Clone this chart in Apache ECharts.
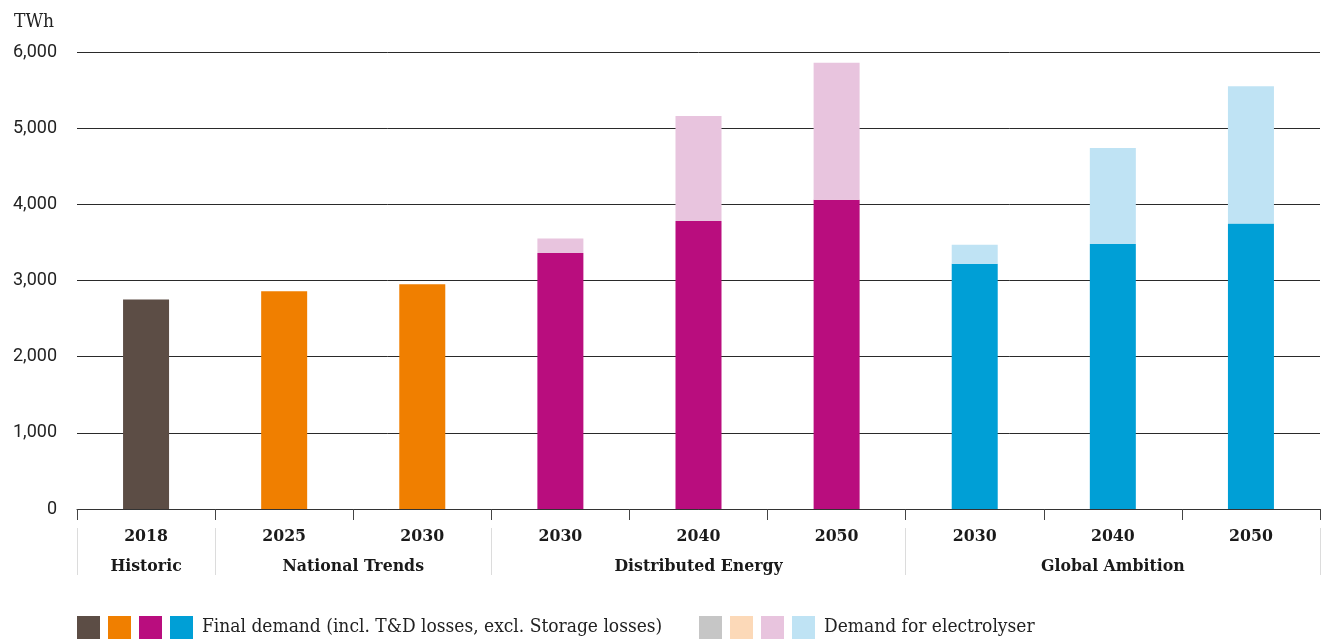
<!DOCTYPE html>
<html>
<head>
<meta charset="utf-8">
<script src="https://cdn.jsdelivr.net/npm/echarts@6/dist/echarts.min.js"></script>
<style>html,body{margin:0;padding:0;background:#fff;overflow:hidden;}#c{width:1323px;height:639px;}</style>
</head>
<body>
<div id="c"></div>
<script>
// ---- data ----
const years = ['2018', '2025', '2030', '2030', '2040', '2050', '2030', '2040', '2050'];
const groupNames = ['Historic', 'National Trends', 'Distributed Energy', 'Global Ambition'];
const groupSizes = [1, 2, 3, 3];
const finalDemand = [2750, 2860, 2950, 3360, 3780, 4060, 3220, 3480, 3750];
const electrolyser = [0, 0, 0, 190, 1380, 1800, 250, 1260, 1800];
const yTicks = [0, 1000, 2000, 3000, 4000, 5000, 6000];
const legendTexts = ['Final demand (incl. T&D losses, excl. Storage losses)', 'Demand for electrolyser'];

// ---- styles ----
const finalColors = ['#5c4d45', '#f07f00', '#f07f00', '#b90d7e', '#b90d7e', '#b90d7e', '#009fd6', '#009fd6', '#009fd6'];
const elecColors = ['#c6c6c6', '#fcd9b8', '#fcd9b8', '#e8c4de', '#e8c4de', '#e8c4de', '#bfe3f4', '#bfe3f4', '#bfe3f4'];
const legendFinal = ['#5c4d45', '#f07f00', '#b90d7e', '#009fd6'];
const legendElec = ['#c6c6c6', '#fcd9b8', '#e8c4de', '#bfe3f4'];
const serif = '"DejaVu Serif Condensed", "DejaVu Serif", serif';

// group axis: 19 boundary points (half-category steps)
const nCat = years.length;
const groupAxis = new Array(nCat * 2 + 1).fill('');
const boundaryIdx = [0];
let acc = 0;
groupSizes.forEach((s, i) => {
  const center = acc + s / 2;
  groupAxis[Math.round(center * 2)] = groupNames[i];
  acc += s;
  boundaryIdx.push(acc * 2);
});

const chart = echarts.init(document.getElementById('c'));

const legendGraphics = [];
const sq = 23, gap = 8, ly = 616;
legendFinal.forEach((c, i) => legendGraphics.push({type: 'rect', shape: {x: 77 + i * (sq + gap), y: ly, width: sq, height: sq}, style: {fill: c}}));
legendGraphics.push({type: 'text', x: 202, y: ly + sq / 2, style: {text: legendTexts[0], font: '19px ' + serif, fill: '#222', textVerticalAlign: 'middle', verticalAlign: 'middle'}});
legendElec.forEach((c, i) => legendGraphics.push({type: 'rect', shape: {x: 699 + i * (sq + gap), y: ly, width: sq, height: sq}, style: {fill: c}}));
legendGraphics.push({type: 'text', x: 824, y: ly + sq / 2, style: {text: legendTexts[1], font: '19px ' + serif, fill: '#222', textVerticalAlign: 'middle', verticalAlign: 'middle'}});

chart.setOption({
  animation: false,
  backgroundColor: '#fff',
  title: {text: 'TWh', left: 9, top: 8, textStyle: {fontFamily: serif, fontWeight: 'normal', fontSize: 19, color: '#222'}},
  grid: {left: 77, width: 1246, top: 52, bottom: 130, containLabel: false},
  xAxis: [
    {
      type: 'category', data: years, position: 'bottom',
      axisLine: {show: true, lineStyle: {color: '#333', width: 1}},
      axisTick: {show: true, alignWithLabel: false, length: 11, lineStyle: {color: '#444'}},
      axisLabel: {fontFamily: serif, fontWeight: 'bold', fontSize: 17.5, color: '#1a1a1a', margin: 18, interval: 0},
      splitLine: {show: false}
    },
    {
      type: 'category', data: groupAxis, position: 'bottom', offset: 19, boundaryGap: false,
      axisLine: {show: false},
      axisTick: {show: true, length: 47, inside: false, interval: (idx) => boundaryIdx.includes(idx), lineStyle: {color: '#dcdcdc'}},
      axisLabel: {fontFamily: serif, fontWeight: 'bold', fontSize: 17.5, color: '#1a1a1a', margin: 29, interval: 0, showMinLabel: true, showMaxLabel: true},
      splitLine: {show: false}
    }
  ],
  yAxis: {
    type: 'value', min: yTicks[0], max: yTicks[yTicks.length - 1], interval: yTicks[1] - yTicks[0],
    axisLine: {show: false}, axisTick: {show: false},
    axisLabel: {fontFamily: 'Roboto', fontSize: 18, color: '#222', margin: 20,
      formatter: (v) => v.toLocaleString('en-US')},
    splitLine: {lineStyle: {color: '#2a2a2a', width: 1}}
  },
  series: [
    {
      name: 'Final demand', type: 'bar', stack: 'a', barWidth: 46, xAxisIndex: 0,
      data: finalDemand.map((v, i) => ({value: v, itemStyle: {color: finalColors[i]}}))
    },
    {
      name: 'Demand for electrolyser', type: 'bar', stack: 'a', barWidth: 46, xAxisIndex: 0,
      data: electrolyser.map((v, i) => ({value: v, itemStyle: {color: elecColors[i]}}))
    }
  ],
  graphic: legendGraphics
});
</script>
</body>
</html>
